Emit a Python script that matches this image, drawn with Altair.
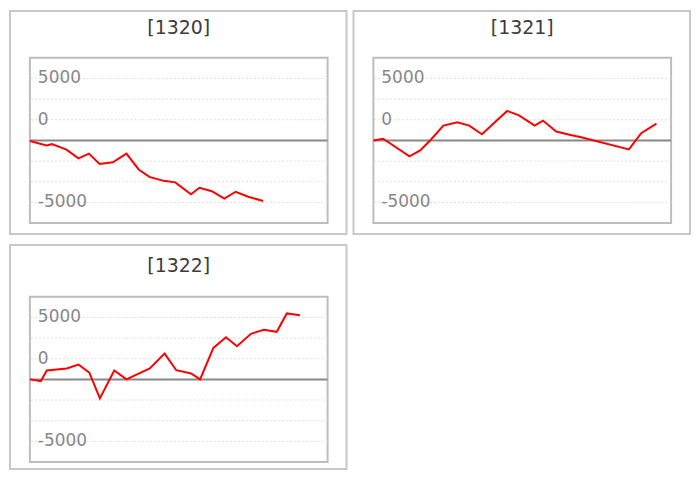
import altair as alt
import pandas as pd

# --- data (x = trading day, y = profit/loss) ---
codes = ["[1320]", "[1321]", "[1322]"]

days_1320 = [0, 1.34, 1.77, 2.95, 3.91, 4.76, 5.62, 6.69, 7.78, 8.77, 9.63,
             10.78, 11.72, 12.98, 13.67, 14.66, 15.67, 16.59, 17.6, 18.8]
pl_1320 = [-50, -400, -300, -740, -1440, -1060, -1900, -1760, -1060, -2340, -2940,
           -3260, -3380, -4340, -3820, -4100, -4700, -4140, -4540, -4880]

days_1321 = [0, 0.78, 2.91, 3.77, 4.63, 5.64, 6.77, 7.73, 8.75, 10.78, 11.74,
             13.0, 13.67, 14.74, 15.81, 16.75, 20.6, 21.59, 22.82]
pl_1321 = [0, 140, -1280, -800, 60, 1200, 1460, 1200, 500, 2380, 2020,
           1200, 1600, 720, 460, 260, -720, 580, 1360]

days_1322 = [0, 0.88, 1.36, 2.97, 3.91, 4.79, 5.64, 6.8, 7.78, 9.66, 10.86,
             11.8, 13.0, 13.72, 14.79, 15.81, 16.69, 17.82, 18.86, 19.9, 20.71, 21.77]
pl_1322 = [0, -140, 720, 880, 1200, 540, -1540, 720, 0, 880, 2080,
           740, 480, 0, 2540, 3400, 2680, 3680, 4000, 3840, 5320, 5180]

day_domain = [0, 24]
y_domain = [-6666.67, 6666.67]
grid_values = [5000, 3333.33, 1666.67, 0, -1666.67, -3333.33, -5000]
# the reference prints "0" one grid line above the zero line
label_values = [5000, 1666.67, -5000]
label_texts = ["5000", "0", "-5000"]

W, H = 299, 166
FONT = "DejaVu Sans"

x_scale = alt.Scale(domain=day_domain, nice=False, zero=False)
y_scale = alt.Scale(domain=y_domain, nice=False)


def panel(code, days, pl, top, bottom, title_y):
    df = pd.DataFrame({"day": days, "pl": pl})
    grid_df = pd.DataFrame({"pl": grid_values})
    label_df = pd.DataFrame({"pl": label_values, "label": label_texts})
    one = pd.DataFrame({"pl": [0]})

    # light outer box around title + plot
    frame = alt.Chart(one).mark_rect(
        fill="transparent", stroke="#c8c8c8", strokeWidth=2
    ).encode(
        x=alt.value(-20), x2=alt.value(W + 19),
        y=alt.value(-top), y2=alt.value(H + bottom),
    )

    title = alt.Chart(one).mark_text(
        font=FONT, fontSize=19, color="#3c3c3c", align="center", baseline="middle"
    ).encode(
        text=alt.value(code), x=alt.value(W / 2), y=alt.value(title_y)
    )

    grid = alt.Chart(grid_df).mark_rule(
        color="#dddddd", strokeWidth=1, strokeDash=[2, 2]
    ).encode(y=alt.Y("pl:Q", scale=y_scale, axis=None))

    labels = alt.Chart(label_df).mark_text(
        font=FONT, fontSize=17, color="#888888", align="left", baseline="middle"
    ).encode(
        y=alt.Y("pl:Q", scale=y_scale, axis=None),
        x=alt.value(8),
        text="label:N",
    )

    zero = alt.Chart(one).mark_rule(color="#888888", strokeWidth=2).encode(
        y=alt.Y("pl:Q", scale=y_scale, axis=None)
    )

    line = alt.Chart(df).mark_line(color="#ff0000", strokeWidth=2).encode(
        x=alt.X("day:Q", scale=x_scale, axis=None),
        y=alt.Y("pl:Q", scale=y_scale, axis=None),
    )

    return alt.layer(frame, title, grid, labels, zero, line).properties(width=W, height=H)


p1 = panel(codes[0], days_1320, pl_1320, top=47, bottom=11, title_y=-30)
p2 = panel(codes[1], days_1321, pl_1321, top=47, bottom=11, title_y=-30)
p3 = panel(codes[2], days_1322, pl_1322, top=52, bottom=7, title_y=-31)

chart = alt.vconcat(
    alt.hconcat(p1, p2, spacing=3),
    p3,
    spacing=7,
).properties(
    padding=0, background="white"
).configure_view(
    stroke="#bdbdbd", strokeWidth=2
)

chart.save("out.html", embed_options={"renderer": "svg", "actions": False})
